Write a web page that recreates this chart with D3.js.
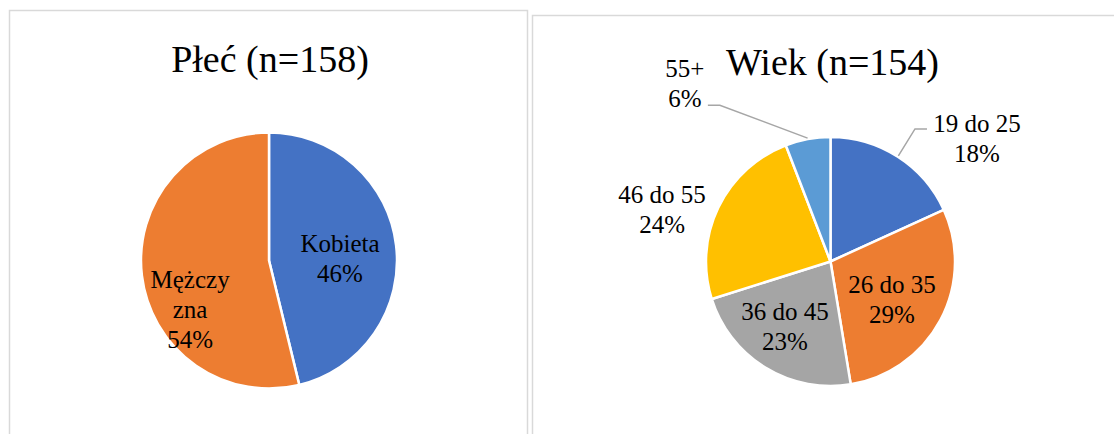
<!DOCTYPE html>
<html>
<head>
<meta charset="utf-8">
<script src="https://cdn.jsdelivr.net/npm/d3@7"></script>
<style>
  body { margin: 0; background: #fff; }
  svg { display: block; }
  svg text { font-family: "Liberation Serif", "Times New Roman", serif; }
</style>
</head>
<body>
<div id="svg-container"></div>
<script>
// data
const genderTitle = 'Płeć (n=158)';
const genderCategories = ['Kobieta', 'Mężczyzna'];
const genderCounts = [73, 85];
const genderColors = ['#4472C4', '#ED7D31'];

const ageTitle = 'Wiek (n=154)';
const ageCategories = ['19 do 25', '26 do 35', '36 do 45', '46 do 55', '55+'];
const ageCounts = [28, 45, 35, 37, 9];
const ageColors = ['#4472C4', '#ED7D31', '#A5A5A5', '#FFC000', '#5B9BD5'];

const svgWidth = 1114;
const svgHeight = 434;
const serif = '"Liberation Serif", "Times New Roman", serif';

const svg = d3.select('#svg-container')
.append('svg')
.attr('width', svgWidth)
.attr('height', svgHeight);

// panel frames
svg.append('rect')
.attr('x', 9.5).attr('y', 10.5)
.attr('width', 518).attr('height', 440)
.attr('fill', 'none')
.attr('stroke', '#d9d9d9')
.attr('stroke-width', 1.5);

svg.append('rect')
.attr('x', 532.5).attr('y', 15.5)
.attr('width', 600).attr('height', 440)
.attr('fill', 'none')
.attr('stroke', '#d9d9d9')
.attr('stroke-width', 1.5);

const pie = d3.pie().sort(null).value((d) => d.value);
const pct = (v, total) => Math.round(v / total * 100) + '%';

// polar helper, angle clockwise from 12 o'clock
const polar = (a, r) => [Math.sin(a) * r, -Math.cos(a) * r];

const drawPie = (opts) => {
    const data = opts.categories.map((c, i) => ({ name: c, value: opts.values[i], color: opts.colors[i] }));
    const total = d3.sum(opts.values);
    const arcs = pie(data);
    const arc = d3.arc().innerRadius(0).outerRadius(opts.r);

    const g = svg.append('g')
    .attr('transform', `translate(${opts.cx}, ${opts.cy})`);

    g.selectAll('path')
    .data(arcs)
    .enter()
    .append('path')
    .attr('d', arc)
    .attr('fill', (d) => d.data.color)
    .attr('stroke', '#fff')
    .attr('stroke-width', 2.5)
    .attr('stroke-linejoin', 'round');

    // labels, placed around the slice middle angle
    arcs.forEach((d, i) => {
        const lay = opts.labels[i];
        const mid = (d.startAngle + d.endAngle) / 2;
        const [lx, ly] = polar(mid + lay.da, opts.r * lay.k);
        const lines = (lay.lines || [d.data.name]).concat([pct(d.data.value, total)]);
        const lineH = 30;
        const t = g.append('text')
        .attr('text-anchor', 'middle')
        .attr('font-family', serif)
        .attr('font-size', 25)
        .attr('fill', '#000');
        lines.forEach((s, j) => {
            t.append('tspan')
            .attr('x', lx)
            .attr('y', ly + (j - (lines.length - 1) / 2) * lineH + 8)
            .text(s);
        });

        if (lay.leader) {
            const [ex, ey] = polar(mid, opts.r + 1);
            const bx = lx + lay.leader.bx;
            const by = ly + lay.leader.by;
            g.append('polyline')
            .attr('points', [[ex, ey], [bx, by], [bx + lay.leader.hx, by]].map((p) => p.join(',')).join(' '))
            .attr('fill', 'none')
            .attr('stroke', '#a6a6a6')
            .attr('stroke-width', 1.5);
        }
    });

    svg.append('text')
    .attr('x', opts.titleX)
    .attr('y', opts.titleY)
    .attr('text-anchor', 'middle')
    .attr('font-family', serif)
    .attr('font-size', 38)
    .attr('fill', '#000')
    .text(opts.title);
};

drawPie({
    title: genderTitle, titleX: 270, titleY: 72,
    categories: genderCategories, values: genderCounts, colors: genderColors,
    cx: 269, cy: 260.5, r: 128,
    labels: [
        { k: 0.555, da: 0.105 },
        { k: 0.728, da: -0.441, lines: ['Mężczy', 'zna'] }
    ]
});

drawPie({
    title: ageTitle, titleX: 832.5, titleY: 75,
    categories: ageCategories, values: ageCounts, colors: ageColors,
    cx: 830.5, cy: 261.5, r: 124.5,
    labels: [
        { k: 1.534, da: 0.303, leader: { bx: -62, by: -10, hx: 12 } },
        { k: 0.583, da: 0.071 },
        { k: 0.641, da: 0.056 },
        { k: 1.415, da: -0.152 },
        { k: 1.843, da: -0.504, leader: { bx: 35, by: 21, hx: -12 } }
    ]
});
</script>
</body>
</html>
